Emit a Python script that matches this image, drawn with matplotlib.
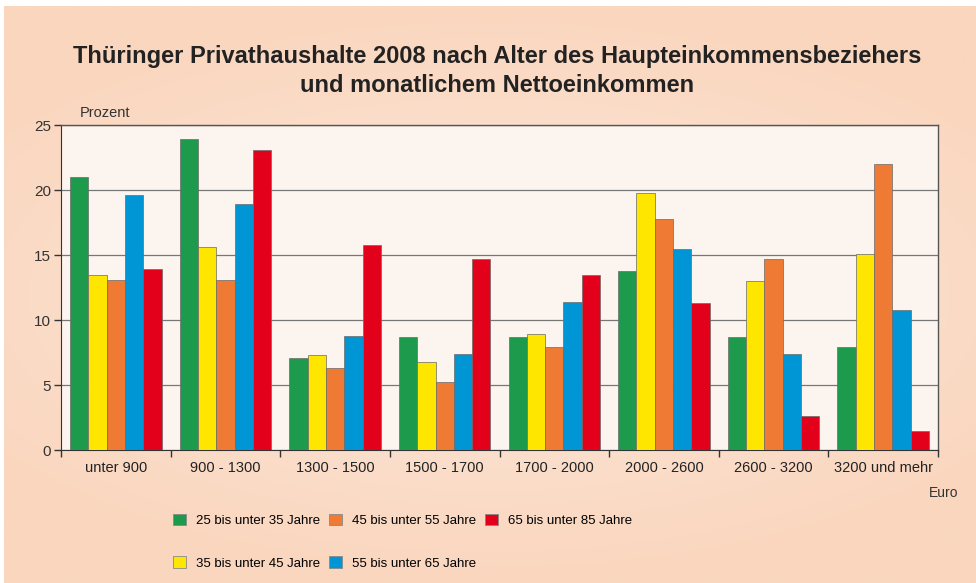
import numpy as np
import matplotlib.pyplot as plt
from matplotlib.patches import Patch

plt.rcParams['font.family'] = ['Liberation Sans', 'DejaVu Sans']

gruppen = ["unter 900", "900 - 1300", "1300 - 1500", "1500 - 1700",
           "1700 - 2000", "2000 - 2600", "2600 - 3200", "3200 und mehr"]
alter = ["25 bis unter 35 Jahre", "35 bis unter 45 Jahre", "45 bis unter 55 Jahre",
         "55 bis unter 65 Jahre", "65 bis unter 85 Jahre"]
a25_35 = [21.0, 23.9, 7.1, 8.7, 8.7, 13.8, 8.7, 7.9]
a35_45 = [13.5, 15.6, 7.3, 6.8, 8.9, 19.8, 13.0, 15.1]
a45_55 = [13.1, 13.1, 6.3, 5.2, 7.9, 17.8, 14.7, 22.0]
a55_65 = [19.6, 18.9, 8.8, 7.4, 11.4, 15.5, 7.4, 10.8]
a65_85 = [13.9, 23.1, 15.8, 14.7, 13.5, 11.3, 2.6, 1.5]
reihen = [a25_35, a35_45, a45_55, a55_65, a65_85]
farben = ['#1e9a4c', '#ffe600', '#ee7a33', '#0095d5', '#e2001b']

fig = plt.figure(figsize=(9.76, 5.83), dpi=100, facecolor='white')

# peach background (white strip at top and left like the scan), lighter in the middle
bg = fig.add_axes([4 / 976, 0, 1 - 4 / 976, 1 - 6 / 583], zorder=-10)
yy, xx = np.mgrid[-1:1:200j, -1:1:300j]
r = np.clip(np.sqrt(xx**2 * 0.6 + yy**2), 0, 1)
c0 = np.array([252, 233, 220]) / 255
c1 = np.array([250, 214, 190]) / 255
img = c0[None, None, :] * (1 - r[..., None]) + c1[None, None, :] * r[..., None]
bg.imshow(img, aspect='auto', extent=[0, 1, 0, 1])
bg.axis('off')

ax = fig.add_axes([0.0625, 0.228, 0.8986, 0.5575])
ax.set_facecolor('#fcf4ee')

x = np.arange(len(gruppen))
w = 0.167
for i, (werte, f) in enumerate(zip(reihen, farben)):
    ax.bar(x + (i - 2) * w, werte, w, color=f, edgecolor='#6a6a6a', linewidth=0.5,
           zorder=3, label=alter[i])

ax.set_xlim(-0.5, len(gruppen) - 0.5)
ax.set_ylim(0, 25)
ax.set_yticks([0, 5, 10, 15, 20, 25])
ax.yaxis.grid(True, color='#777777', linewidth=0.9, zorder=1)
ax.set_xticks(x)
ax.set_xticklabels(gruppen, fontsize=10.5, color='#222222')
ax.set_xticks(np.arange(-0.5, len(gruppen)), minor=True)
ax.tick_params(axis='x', which='major', length=0, pad=8)
ax.tick_params(axis='x', which='minor', length=5, width=1, color='#333333')
ax.tick_params(axis='y', length=5, width=1, color='#333333', labelsize=11, labelcolor='#333333', pad=2)
for s in ['top', 'right']:
    ax.spines[s].set_color('#555555')
    ax.spines[s].set_linewidth(1)
ax.spines['left'].set_color('#333333')
ax.spines['bottom'].set_color('#333333')

fig.text(0.509, 0.878, "Thüringer Privathaushalte 2008 nach Alter des Haupteinkommensbeziehers\nund monatlichem Nettoeinkommen",
         ha='center', va='center', fontsize=17, fontweight='bold', color='#222222', linespacing=1.3)
fig.text(0.082, 0.806, "Prozent", fontsize=10.5, color='#333333', va='center')
fig.text(0.982, 0.155, "Euro", fontsize=10, color='#333333', ha='right', va='center')

handles = [Patch(facecolor=f, edgecolor='#888888', linewidth=0.6) for f in farben]
leg = fig.legend(handles, alter, ncol=3, loc='center left', bbox_to_anchor=(0.171, 0.071),
                 frameon=False, borderpad=0, handlelength=0.95, handleheight=0.95,
                 handletextpad=0.75, columnspacing=0.7, labelspacing=2.25,
                 prop={'size': 9.5})

plt.savefig('out.png', dpi=100)
